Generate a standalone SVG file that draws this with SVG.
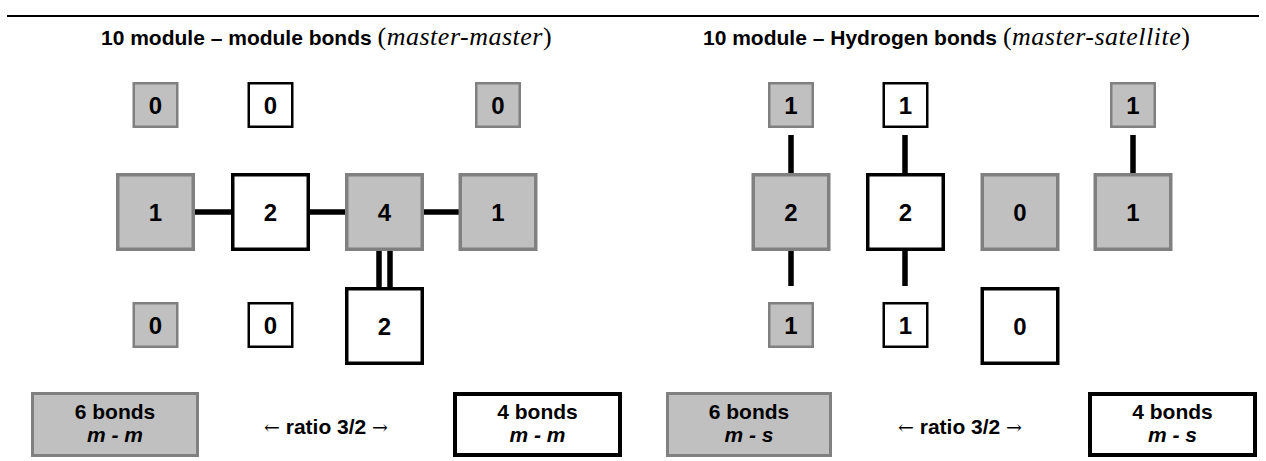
<svg xmlns="http://www.w3.org/2000/svg" width="1266" height="461" viewBox="0 0 1266 461">
<style>
  .g { fill: #C0C0C0; stroke: #808080; }
  .w { fill: #FFFFFF; stroke: #000000; }
  .s { stroke-width: 2.5; }
  .b { stroke-width: 3.5; }
  .num { font-family: "Liberation Sans", Arial, sans-serif; font-weight: bold; font-size: 24px; text-anchor: middle; fill: #000; }
  .ttl { font-family: "Liberation Sans", Arial, sans-serif; font-weight: bold; font-size: 21px; fill: #000; }
  .ser { font-family: "Liberation Serif", "Times New Roman", serif; font-weight: normal; font-size: 26px; letter-spacing: 0.5px; }
  .lg { font-family: "Liberation Sans", Arial, sans-serif; font-weight: bold; font-size: 21px; text-anchor: middle; fill: #000; }
  .it { font-style: italic; }
  .arr { font-family: "DejaVu Serif", "Liberation Serif", serif; font-weight: normal; font-size: 19px; }
  .bond { stroke: #000; stroke-width: 5.5; fill: none; }
</style>

<line x1="7" y1="16" x2="1259" y2="16" stroke="#000" stroke-width="2"/>

<text class="ttl" x="101" y="45">10 module – module bonds <tspan class="ser">(<tspan class="it">master-master</tspan>)</tspan></text>
<text class="ttl" x="703" y="45">10 module – Hydrogen bonds <tspan class="ser">(<tspan class="it">master-satellite</tspan>)</tspan></text>

<g id="connectors">
  <line class="bond" x1="195" y1="212" x2="231" y2="212"/>
  <line class="bond" x1="310" y1="212" x2="345" y2="212"/>
  <line class="bond" x1="424" y1="212" x2="459" y2="212"/>
  <line class="bond" x1="379" y1="251" x2="379" y2="287"/>
  <line class="bond" x1="390" y1="251" x2="390" y2="287"/>
  <line class="bond" x1="791" y1="135" x2="791" y2="173"/>
  <line class="bond" x1="905" y1="135" x2="905" y2="173"/>
  <line class="bond" x1="1133" y1="135" x2="1133" y2="173"/>
  <line class="bond" x1="791" y1="251" x2="791" y2="286"/>
  <line class="bond" x1="905" y1="251" x2="905" y2="286"/>
</g>

<!-- Left panel -->
<g id="L_r1c1"><rect class="g s" x="133.75" y="83.25" width="43.5" height="43.5"/><text class="num" x="155.5" y="113.5">0</text></g>
<g id="L_r1c2"><rect class="w s" x="248.75" y="83.25" width="43.5" height="43.5"/><text class="num" x="270.5" y="113.5">0</text></g>
<g id="L_r1c4"><rect class="g s" x="476.25" y="83.25" width="43.5" height="43.5"/><text class="num" x="498" y="113.5">0</text></g>

<g id="L_r2c1"><rect class="g b" x="117.75" y="174.75" width="75.5" height="74.5"/><text class="num" x="155.5" y="220.5">1</text></g>
<g id="L_r2c2"><rect class="w b" x="232.75" y="174.75" width="75.5" height="74.5"/><text class="num" x="270.5" y="220.5">2</text></g>
<g id="L_r2c3"><rect class="g b" x="346.75" y="174.75" width="75.5" height="74.5"/><text class="num" x="384.5" y="220.5">4</text></g>
<g id="L_r2c4"><rect class="g b" x="460.25" y="174.75" width="75.5" height="74.5"/><text class="num" x="498" y="220.5">1</text></g>

<g id="L_r3c1"><rect class="g s" x="133.75" y="303.25" width="43.5" height="43.5"/><text class="num" x="155.5" y="333.5">0</text></g>
<g id="L_r3c2"><rect class="w s" x="248.75" y="303.25" width="43.5" height="43.5"/><text class="num" x="270.5" y="333.5">0</text></g>
<g id="L_r3c3"><rect class="w b" x="346.75" y="288.75" width="75.5" height="74.5"/><text class="num" x="384.5" y="334.5">2</text></g>

<g id="L_leg1"><rect class="g" stroke-width="3" x="32.5" y="393.5" width="165" height="62"/><text class="lg" x="115" y="419">6 bonds</text><text class="lg it" x="115" y="442">m - m</text></g>
<g id="L_ratio"><text class="lg" x="326" y="434"><tspan class="arr">←</tspan> ratio 3/2 <tspan class="arr">→</tspan></text></g>
<g id="L_leg2"><rect class="w" stroke-width="4" x="455" y="394" width="165" height="61"/><text class="lg" x="537.5" y="419">4 bonds</text><text class="lg it" x="537.5" y="442">m - m</text></g>

<!-- Right panel -->
<g id="R_r1c1"><rect class="g s" x="769.25" y="83.25" width="43.5" height="43.5"/><text class="num" x="791" y="113.5">1</text></g>
<g id="R_r1c2"><rect class="w s" x="883.75" y="83.25" width="43.5" height="43.5"/><text class="num" x="905.5" y="113.5">1</text></g>
<g id="R_r1c4"><rect class="g s" x="1111.25" y="83.25" width="43.5" height="43.5"/><text class="num" x="1133" y="113.5">1</text></g>

<g id="R_r2c1"><rect class="g b" x="753.25" y="174.75" width="75.5" height="74.5"/><text class="num" x="791" y="220.5">2</text></g>
<g id="R_r2c2"><rect class="w b" x="867.75" y="174.75" width="75.5" height="74.5"/><text class="num" x="905.5" y="220.5">2</text></g>
<g id="R_r2c3"><rect class="g b" x="982.25" y="174.75" width="75.5" height="74.5"/><text class="num" x="1020" y="220.5">0</text></g>
<g id="R_r2c4"><rect class="g b" x="1095.25" y="174.75" width="75.5" height="74.5"/><text class="num" x="1133" y="220.5">1</text></g>

<g id="R_r3c1"><rect class="g s" x="769.25" y="303.25" width="43.5" height="43.5"/><text class="num" x="791" y="333.5">1</text></g>
<g id="R_r3c2"><rect class="w s" x="883.75" y="303.25" width="43.5" height="43.5"/><text class="num" x="905.5" y="333.5">1</text></g>
<g id="R_r3c3"><rect class="w b" x="982.25" y="288.75" width="75.5" height="74.5"/><text class="num" x="1020" y="334.5">0</text></g>

<g id="R_leg1"><rect class="g" stroke-width="3" x="667.5" y="393.5" width="163" height="62"/><text class="lg" x="749" y="419">6 bonds</text><text class="lg it" x="749" y="442">m - s</text></g>
<g id="R_ratio"><text class="lg" x="960" y="434"><tspan class="arr">←</tspan> ratio 3/2 <tspan class="arr">→</tspan></text></g>
<g id="R_leg2"><rect class="w" stroke-width="4" x="1090" y="394" width="165" height="61"/><text class="lg" x="1172.5" y="419">4 bonds</text><text class="lg it" x="1172.5" y="442">m - s</text></g>
</svg>
